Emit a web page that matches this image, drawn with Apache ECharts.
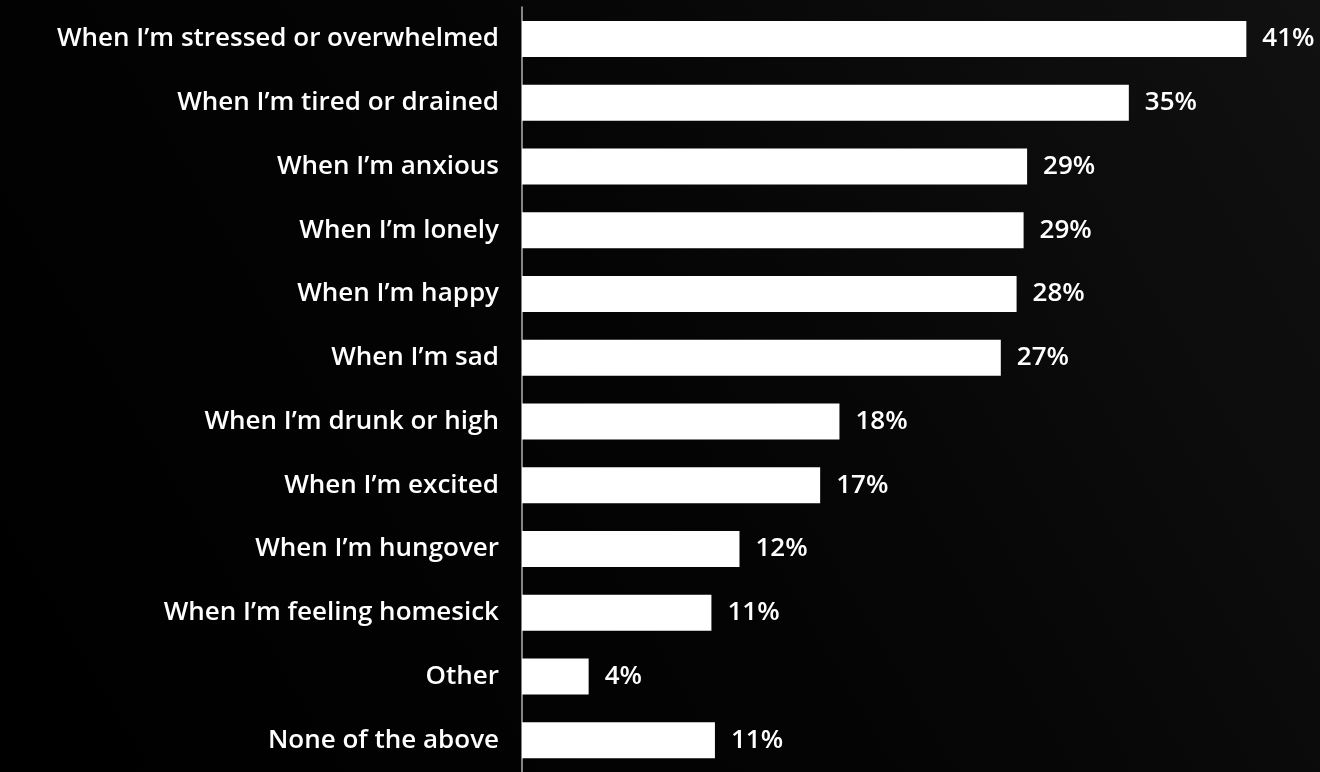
<!DOCTYPE html>
<html>
<head>
<meta charset="utf-8">
<script src="https://cdn.jsdelivr.net/npm/echarts@6/dist/echarts.min.js"></script>
<style>
  html, body { margin: 0; padding: 0; background: #000; }
  #chart { width: 1320px; height: 772px; }
</style>
</head>
<body>
<div id="chart"></div>
<script>
const categories = [
  'When I\u2019m stressed or overwhelmed',
  'When I\u2019m tired or drained',
  'When I\u2019m anxious',
  'When I\u2019m lonely',
  'When I\u2019m happy',
  'When I\u2019m sad',
  'When I\u2019m drunk or high',
  'When I\u2019m excited',
  'When I\u2019m hungover',
  'When I\u2019m feeling homesick',
  'Other',
  'None of the above'
]
const shares = [41.3, 34.6, 28.8, 28.6, 28.2, 27.3, 18.1, 17.0, 12.4, 10.8, 3.8, 11.0]

const FONT = '"Open Sans", "DejaVu Sans", sans-serif'

const chart = echarts.init(document.getElementById('chart'))
chart.setOption({
  backgroundColor: {
    type: 'linear', x: 0, y: 1, x2: 1, y2: 0,
    colorStops: [
      { offset: 0, color: '#000000' },
      { offset: 0.5, color: '#040404' },
      { offset: 1, color: '#111111' }
    ]
  },
  animation: false,
  grid: { left: 522, top: 7, width: 798, height: 775, containLabel: false },
  xAxis: {
    type: 'value',
    min: 0,
    max: 45.5,
    show: false
  },
  yAxis: {
    type: 'category',
    inverse: true,
    data: categories,
    axisLine: { show: true, lineStyle: { color: '#b0b0b0', width: 1.5 } },
    axisTick: { show: false },
    axisLabel: {
      color: '#ffffff',
      fontFamily: FONT,
      fontWeight: 600,
      fontSize: 26,
      margin: 23
    }
  },
  series: [{
    type: 'bar',
    data: shares,
    barWidth: 36,
    itemStyle: { color: '#ffffff' },
    label: {
      show: true,
      position: 'right',
      distance: 16,
      color: '#ffffff',
      fontFamily: FONT,
      fontWeight: 600,
      fontSize: 26,
      formatter: p => Math.round(p.value) + '%'
    }
  }]
})
</script>
</body>
</html>
